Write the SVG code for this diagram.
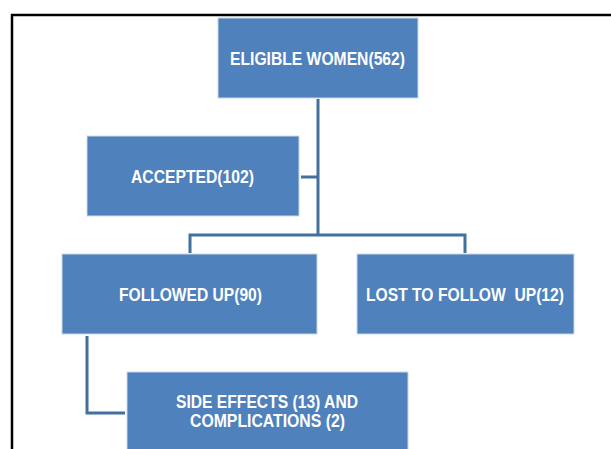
<svg xmlns="http://www.w3.org/2000/svg" width="611" height="449" viewBox="0 0 611 449">
<style>
.box{fill:#4F81BD;stroke:#C9D7EA;stroke-width:1}
.t{font-family:"Liberation Sans",Arial,sans-serif;font-weight:bold;font-size:17.5px;fill:#FFFFFF}
.c{fill:none;stroke:#41719C;stroke-width:3}
</style>
<rect x="0" y="0" width="611" height="449" fill="#FFFFFF"/>
<path d="M12 449 V15 H611" fill="none" stroke="#000000" stroke-width="2.5"/>
<g id="connectors">
<path class="c" d="M318 99 V235"/>
<path class="c" d="M301 177 H318"/>
<path class="c" d="M190 253 V235 H465 V253"/>
<path class="c" d="M87 336 V413 H125"/>
</g>
<g id="eligible">
<rect class="box" x="218" y="18" width="200" height="80"/>
<text class="t" x="230" y="65" textLength="175" lengthAdjust="spacingAndGlyphs">ELIGIBLE WOMEN(562)</text>
</g>
<g id="accepted">
<rect class="box" x="87" y="136" width="212" height="80"/>
<text class="t" x="131" y="183" textLength="123" lengthAdjust="spacingAndGlyphs">ACCEPTED(102)</text>
</g>
<g id="followed">
<rect class="box" x="62" y="254" width="255" height="80"/>
<text class="t" x="119" y="301" textLength="143" lengthAdjust="spacingAndGlyphs">FOLLOWED UP(90)</text>
</g>
<g id="lost">
<rect class="box" x="357" y="254" width="217" height="80"/>
<text class="t" x="366" y="301" textLength="198" lengthAdjust="spacingAndGlyphs" xml:space="preserve">LOST TO FOLLOW  UP(12)</text>
</g>
<g id="side">
<rect class="box" x="127" y="372" width="281" height="90"/>
<text class="t" x="176" y="408" textLength="182" lengthAdjust="spacingAndGlyphs">SIDE EFFECTS (13) AND</text>
<text class="t" x="190" y="427" textLength="155" lengthAdjust="spacingAndGlyphs">COMPLICATIONS (2)</text>
</g>
</svg>
